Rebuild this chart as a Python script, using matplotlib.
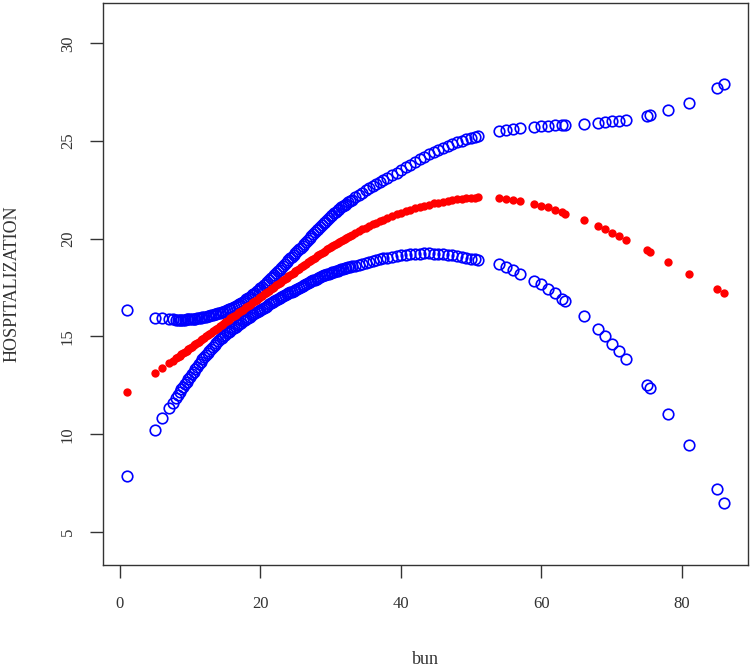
import numpy as np
import matplotlib
matplotlib.use("Agg")
import matplotlib.pyplot as plt

plt.rcParams["font.family"] = ["Liberation Serif", "DejaVu Serif"]

# -----------------------------------------------------------------------------
# Data: bun vs fitted HOSPITALIZATION with lower/upper band
# -----------------------------------------------------------------------------
bun = [1, 5, 6, 7, 7.5, 8, 8.5, 9, 9.5, 10, 10.5, 11, 11.5, 12, 12.5, 13, 13.5,
       14, 14.5, 15, 15.5, 16, 16.5, 17, 17.5, 18, 18.5, 19, 19.5, 20, 20.5,
       21, 21.5, 22, 22.5, 23, 23.5, 24, 24.5, 25, 25.5, 26, 26.5, 27, 27.5,
       28, 28.5, 29, 29.5, 30, 30.5, 31, 31.5, 32, 32.5, 33, 33.5, 34, 34.5,
       35, 35.5, 36, 36.5, 37, 37.5,
       38, 38.7, 39.4, 40, 40.7, 41.3, 42, 42.7, 43.3, 44, 44.7, 45.3, 46,
       46.7, 47.3, 48, 48.7, 49.3, 50, 50.5, 51,
       54, 55, 56, 57, 59, 60, 61, 62, 63, 63.4, 66, 68, 69, 70, 71, 72,
       75, 75.4, 78, 81, 85, 86]

fit = [12.15, 13.11, 13.37, 13.63, 13.76, 13.89, 14.02, 14.15, 14.28, 14.41,
       14.54, 14.67, 14.80, 14.93, 15.06, 15.19, 15.32, 15.45, 15.58, 15.72,
       15.85, 15.98, 16.11, 16.24, 16.37, 16.50, 16.63, 16.76, 16.89, 17.02,
       17.15, 17.28, 17.41, 17.55, 17.68, 17.81, 17.94, 18.07, 18.20, 18.33,
       18.46, 18.59, 18.72, 18.85, 18.98, 19.10, 19.22, 19.33, 19.45, 19.56,
       19.67, 19.78, 19.89, 19.99, 20.10, 20.20, 20.30, 20.40, 20.49, 20.57,
       20.66, 20.74, 20.82, 20.90, 20.98,
       21.06, 21.16, 21.26, 21.33, 21.41, 21.49, 21.56, 21.63, 21.69, 21.75,
       21.81, 21.85, 21.90, 21.94, 21.98, 22.01, 22.04, 22.06, 22.09, 22.10,
       22.11,
       22.08, 22.02, 21.98, 21.94, 21.80, 21.68, 21.60, 21.48, 21.36, 21.29,
       20.95, 20.64, 20.50, 20.30, 20.13, 19.96, 19.42, 19.33, 18.80, 18.20,
       17.44, 17.23]

lower = [7.86, 10.21, 10.81, 11.32, 11.60, 11.87, 12.15, 12.42, 12.68, 12.94,
         13.20, 13.45, 13.70, 13.95, 14.17, 14.38, 14.58, 14.76, 14.93, 15.08,
         15.23, 15.37, 15.51, 15.64, 15.77, 15.90, 16.02, 16.13, 16.25, 16.36,
         16.47, 16.58, 16.69, 16.80, 16.90, 17.00, 17.10, 17.20, 17.30, 17.40,
         17.50, 17.60, 17.69, 17.78, 17.87, 17.95, 18.04, 18.12, 18.19, 18.25,
         18.31, 18.37, 18.43, 18.48, 18.53, 18.58, 18.63, 18.68, 18.73, 18.78,
         18.83, 18.87, 18.91, 18.95, 18.99,
         19.03, 19.08, 19.12, 19.16, 19.19, 19.21, 19.23, 19.24, 19.25, 19.25,
         19.24, 19.24, 19.22, 19.19, 19.17, 19.13, 19.08, 19.04, 18.98, 18.95,
         18.92,
         18.70, 18.53, 18.40, 18.21, 17.85, 17.68, 17.44, 17.20, 16.93, 16.83,
         16.03, 15.36, 15.00, 14.63, 14.25, 13.83, 12.53, 12.36, 11.05, 9.45,
         7.18, 6.50]

upper = [16.35, 15.96, 15.92, 15.88, 15.87, 15.86, 15.86, 15.86, 15.87, 15.88,
         15.90, 15.93, 15.96, 16.00, 16.04, 16.08, 16.13, 16.18, 16.24, 16.30,
         16.38, 16.46, 16.56, 16.66, 16.78, 16.90, 17.03, 17.17, 17.32, 17.47,
         17.63, 17.80, 17.97, 18.15, 18.33, 18.52, 18.71, 18.90, 19.09, 19.28,
         19.46, 19.65, 19.85, 20.05, 20.24, 20.43, 20.62, 20.80, 20.97, 21.14,
         21.30, 21.45, 21.60, 21.74, 21.87, 22.00, 22.12, 22.24, 22.36, 22.47,
         22.58, 22.69, 22.80, 22.90, 23.00,
         23.10, 23.24, 23.38, 23.51, 23.66, 23.78, 23.93, 24.08, 24.20, 24.33,
         24.45, 24.55, 24.65, 24.75, 24.84, 24.94, 25.02, 25.09, 25.17, 25.22,
         25.27,
         25.50, 25.55, 25.59, 25.64, 25.72, 25.76, 25.79, 25.81, 25.83, 25.84,
         25.88, 25.93, 25.96, 26.00, 26.03, 26.06, 26.30, 26.35, 26.60, 26.93,
         27.70, 27.90]

# extra observations in the crowded 8-33 stretch (band looks solid there)
bun_dense = [8.25, 8.75, 9.25, 9.75, 10.25, 10.75, 11.25, 11.75, 12.25, 12.75,
             13.25, 13.75, 14.25, 14.75, 15.25, 15.75, 16.25, 16.75, 17.25,
             17.75, 18.25, 18.75, 19.25, 19.75, 20.25, 20.75, 21.25, 21.75,
             22.25, 22.75, 23.25, 23.75, 24.25, 24.75, 25.25, 25.75, 26.25,
             26.75, 27.25, 27.75, 28.25, 28.75, 29.25, 29.75, 30.25, 30.75,
             31.25, 31.75, 32.25, 32.75]
fit_dense = [13.96, 14.09, 14.22, 14.35, 14.48, 14.61, 14.74, 14.87, 15.00,
             15.13, 15.26, 15.39, 15.52, 15.65, 15.79, 15.92, 16.05, 16.18,
             16.31, 16.44, 16.57, 16.70, 16.83, 16.96, 17.09, 17.22, 17.35,
             17.48, 17.62, 17.75, 17.88, 18.01, 18.14, 18.27, 18.40, 18.53,
             18.66, 18.79, 18.92, 19.04, 19.16, 19.28, 19.39, 19.51, 19.62,
             19.73, 19.84, 19.94, 20.05, 20.15]
lower_dense = [12.01, 12.29, 12.55, 12.81, 13.07, 13.33, 13.58, 13.83, 14.06,
               14.28, 14.48, 14.67, 14.85, 15.01, 15.16, 15.30, 15.44, 15.58,
               15.71, 15.84, 15.96, 16.08, 16.19, 16.31, 16.42, 16.53, 16.64,
               16.75, 16.85, 16.95, 17.05, 17.15, 17.25, 17.35, 17.45, 17.55,
               17.65, 17.74, 17.83, 17.91, 18.00, 18.08, 18.16, 18.22, 18.28,
               18.34, 18.40, 18.46, 18.51, 18.56]
upper_dense = [15.86, 15.86, 15.86, 15.87, 15.89, 15.91, 15.94, 15.98, 16.02,
               16.06, 16.10, 16.15, 16.21, 16.27, 16.34, 16.42, 16.51, 16.61,
               16.72, 16.84, 16.96, 17.10, 17.24, 17.39, 17.55, 17.71, 17.88,
               18.06, 18.24, 18.42, 18.61, 18.80, 18.99, 19.18, 19.37, 19.55,
               19.75, 19.95, 20.14, 20.33, 20.52, 20.71, 20.88, 21.05, 21.22,
               21.37, 21.52, 21.67, 21.80, 21.93]

x_ticks = [0, 20, 40, 60, 80]
y_ticks = [5, 10, 15, 20, 25, 30]

# -----------------------------------------------------------------------------
# Figure (base-R look)
# -----------------------------------------------------------------------------
fig = plt.figure(figsize=(7.5, 6.69), dpi=100)
ax = fig.add_axes([0.1373, 0.1555, 0.86, 0.84])

x_all = bun + bun_dense
blue_kw = dict(marker="o", ls="none", mfc="none", mec="#0000ff",
               ms=7.6, mew=1.2, zorder=2)
ax.plot(x_all, upper + upper_dense, **blue_kw)
ax.plot(x_all, lower + lower_dense, **blue_kw)
ax.plot(x_all, fit + fit_dense, "o", ls="none", color="#ff0000", mec="none",
        ms=6.0, zorder=3)

ax.set_xlim(-2.4, 89.4)
ax.set_ylim(3.31, 32.06)
ax.set_xticks(x_ticks)
ax.set_yticks(y_ticks)
ax.set_xticklabels([str(v) for v in x_ticks], fontsize=12, color="#333333")
ax.set_yticklabels([str(v) for v in y_ticks], fontsize=12, rotation=90,
                   va="center", color="#333333")

for side in ["left", "right", "top", "bottom"]:
    ax.spines[side].set_linewidth(1.0)
    ax.spines[side].set_color("#333333")
ax.tick_params(axis="both", length=9.5, width=1.0, color="#333333",
               direction="out")
ax.tick_params(axis="x", pad=13)
ax.tick_params(axis="y", pad=10)

ax.set_xlabel("bun", fontsize=13, color="#333333")
ax.set_ylabel("HOSPITALIZATION", fontsize=13, color="#333333")
ax.xaxis.set_label_coords(0.5, -0.169)
ax.yaxis.set_label_coords(-0.141, 0.5)
ax.xaxis.label.set_va("center")
ax.yaxis.label.set_va("center")

fig.savefig("out.png", dpi=100)
